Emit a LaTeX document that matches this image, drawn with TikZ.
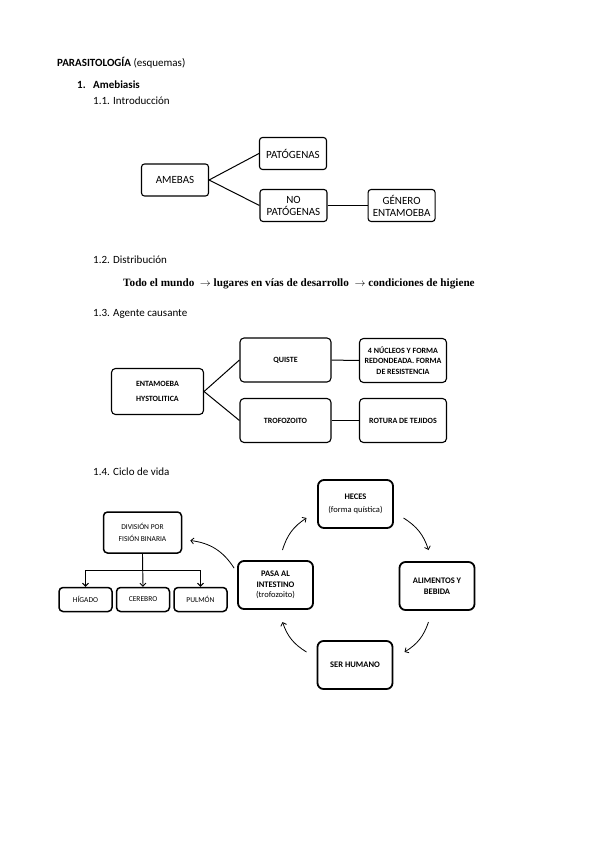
\documentclass[tikz,border=0pt]{standalone}
\usepackage{fontspec}
\setmainfont{Carlito}
\newfontfamily\distfont{Liberation Serif}
\usetikzlibrary{arrows.meta,positioning,calc}

\begin{document}
\begin{tikzpicture}[
    x=1pt, y=-1pt,
    >={Straight Barb[length=3pt,width=6pt]},
    head/.style={anchor=base west, inner sep=0pt, font=\fontsize{11}{13}\selectfont},
    box/.style={
      rectangle,
      rounded corners=3pt,
      draw=black,
      line width=1.1pt,
      align=center,
      minimum width=67pt,
      minimum height=32pt,
      inner sep=1pt,
      font=\fontsize{11}{12}\selectfont
    },
    agent/.style={
      rectangle,
      rounded corners=4pt,
      draw=black,
      line width=1.1pt,
      align=center,
      minimum width=91pt,
      minimum height=44pt,
      inner sep=1pt,
      font=\fontsize{8}{10.8}\selectfont\bfseries
    },
    stage/.style={
      rectangle,
      rounded corners=6pt,
      draw=black,
      line width=1.8pt,
      align=center,
      minimum width=75pt,
      minimum height=48pt,
      inner sep=1pt,
      font=\fontsize{8.5}{10.5}\selectfont\bfseries
    },
    organ/.style={
      rectangle,
      rounded corners=4pt,
      draw=black,
      line width=1.5pt,
      align=center,
      minimum width=53pt,
      minimum height=24pt,
      inner sep=1pt,
      font=\fontsize{7.5}{9}\selectfont
    },
    link/.style={draw=black, line width=1pt},
    tree/.style={->, draw=black, line width=0.9pt},
    cyc/.style={->, draw=black, line width=0.8pt}
  ]
  \useasboundingbox (0,0) rectangle (599,848);

  % headings
  \node[head] (title) at (57,67) {\textbf{PARASITOLOGÍA} (esquemas)};
  \node[head, font=\fontsize{11}{13}\selectfont\bfseries] (sec1) at (77,89) {1.};
  \node[head, font=\fontsize{11}{13}\selectfont\bfseries] (sec1t) at (93,89) {Amebiasis};
  \node[head] (s11) at (93,105) {1.1. Introducción};

  % 1.1
  \node[box] (amebas) at (175,180) {AMEBAS};
  \node[box] (pat) at (293,153.5) {PATÓGENAS};
  \node[box] (nopat) at (293.5,205.5) {NO\\PATÓGENAS};
  \node[box, right=40pt of nopat] (genero) {GÉNERO\\ENTAMOEBA};

  \draw[link] (amebas.east) -- (pat.west);
  \draw[link] (amebas.east) -- (nopat.west);
  \draw[link] (nopat) -- (genero);

  % 1.2
  \node[head] (s12) at (93,263) {1.2. Distribución};
  \node[head, font=\distfont\bfseries\fontsize{11.2}{13}\selectfont] (dist) at (123,286)
    {Todo el mundo \ $\rightarrow$ lugares en vías de desarrollo \ $\rightarrow$ condiciones de higiene};

  % 1.3
  \node[head] (s13) at (93,316) {1.3. Agente causante};

  \node[agent, minimum width=92pt, minimum height=46pt] (enta) at (157.5,391.5) {ENTAMOEBA\\[4pt]HYSTOLITICA};
  \node[agent] (quiste) at (285.5,360) {QUISTE};
  \node[agent] (trofo) at (285.5,420.5) {TROFOZOITO};
  \node[agent, minimum width=87pt] (nucleos) at (403,360.5) {4 NÚCLEOS Y FORMA\\REDONDEADA. FORMA\\DE RESISTENCIA};
  \node[agent, minimum width=87pt] (rotura) at (403,420.5) {ROTURA DE TEJIDOS};

  \draw[link] (enta.east) -- (quiste.west);
  \draw[link] (enta.east) -- (trofo.west);
  \draw[link] (quiste) -- (nucleos);
  \draw[link] (trofo) -- (rotura);

  % 1.4
  \node[head] (s14) at (93,475) {1.4. Ciclo de vida};

  \node[stage] (heces) at (355.5,504) {HECES\\[2pt]{\mdseries\fontsize{8.5}{10}\selectfont(forma quística)}};
  \node[stage] (alim) at (437,586) {ALIMENTOS Y\\BEBIDA};
  \node[stage] (humano) at (355,665) {SER HUMANO};
  \node[stage] (pasa) at (275.5,585) {PASA AL\\INTESTINO\\{\mdseries\fontsize{8.5}{10}\selectfont(trofozoito)}};

  \node[organ, minimum width=78pt, minimum height=41pt] (div) at (142.5,532.5) {DIVISIÓN POR\\[3pt]FISIÓN BINARIA};
  \node[organ] (cerebro) at (143,599.5) {CEREBRO};
  \node[organ, left=3pt of cerebro] (higado) {HÍGADO};
  \node[organ, right=3pt of cerebro] (pulmon) {PULMÓN};

  \draw[tree] (div.south) -- (cerebro.north);
  \draw[tree] (div.south) -- ++(0,17) -| (higado.north);
  \draw[tree] (div.south) -- ++(0,17) -| (pulmon.north);

  % cycle arrows
  \coordinate (ctr) at (heces.south |- pasa.east);
  \coordinate (a1) at ($(ctr)+(48,-67)$);
  \coordinate (a2) at ($(ctr)+(73,-35)$);
  \coordinate (a3) at ($(ctr)+(73,37)$);
  \coordinate (a4) at ($(ctr)+(49,67)$);
  \coordinate (a5) at ($(ctr)+(-49,67)$);
  \coordinate (a6) at ($(ctr)+(-73,37)$);
  \coordinate (a7) at ($(ctr)+(-73,-35)$);
  \coordinate (a8) at ($(ctr)+(-49,-67)$);
  \draw[cyc] (a1) to[bend left=20] (a2);
  \draw[cyc] (a3) to[bend left=20] (a4);
  \draw[cyc] (a5) to[bend left=20] (a6);
  \draw[cyc] (a7) to[bend left=20] (a8);

  \coordinate (p0) at ($(pasa.north west)+(-3,8)$);
  \coordinate (p1) at ($(div.east)+(8,8)$);
  \draw[cyc] (p0) to[bend right=25] (p1);
\end{tikzpicture}
\end{document}
